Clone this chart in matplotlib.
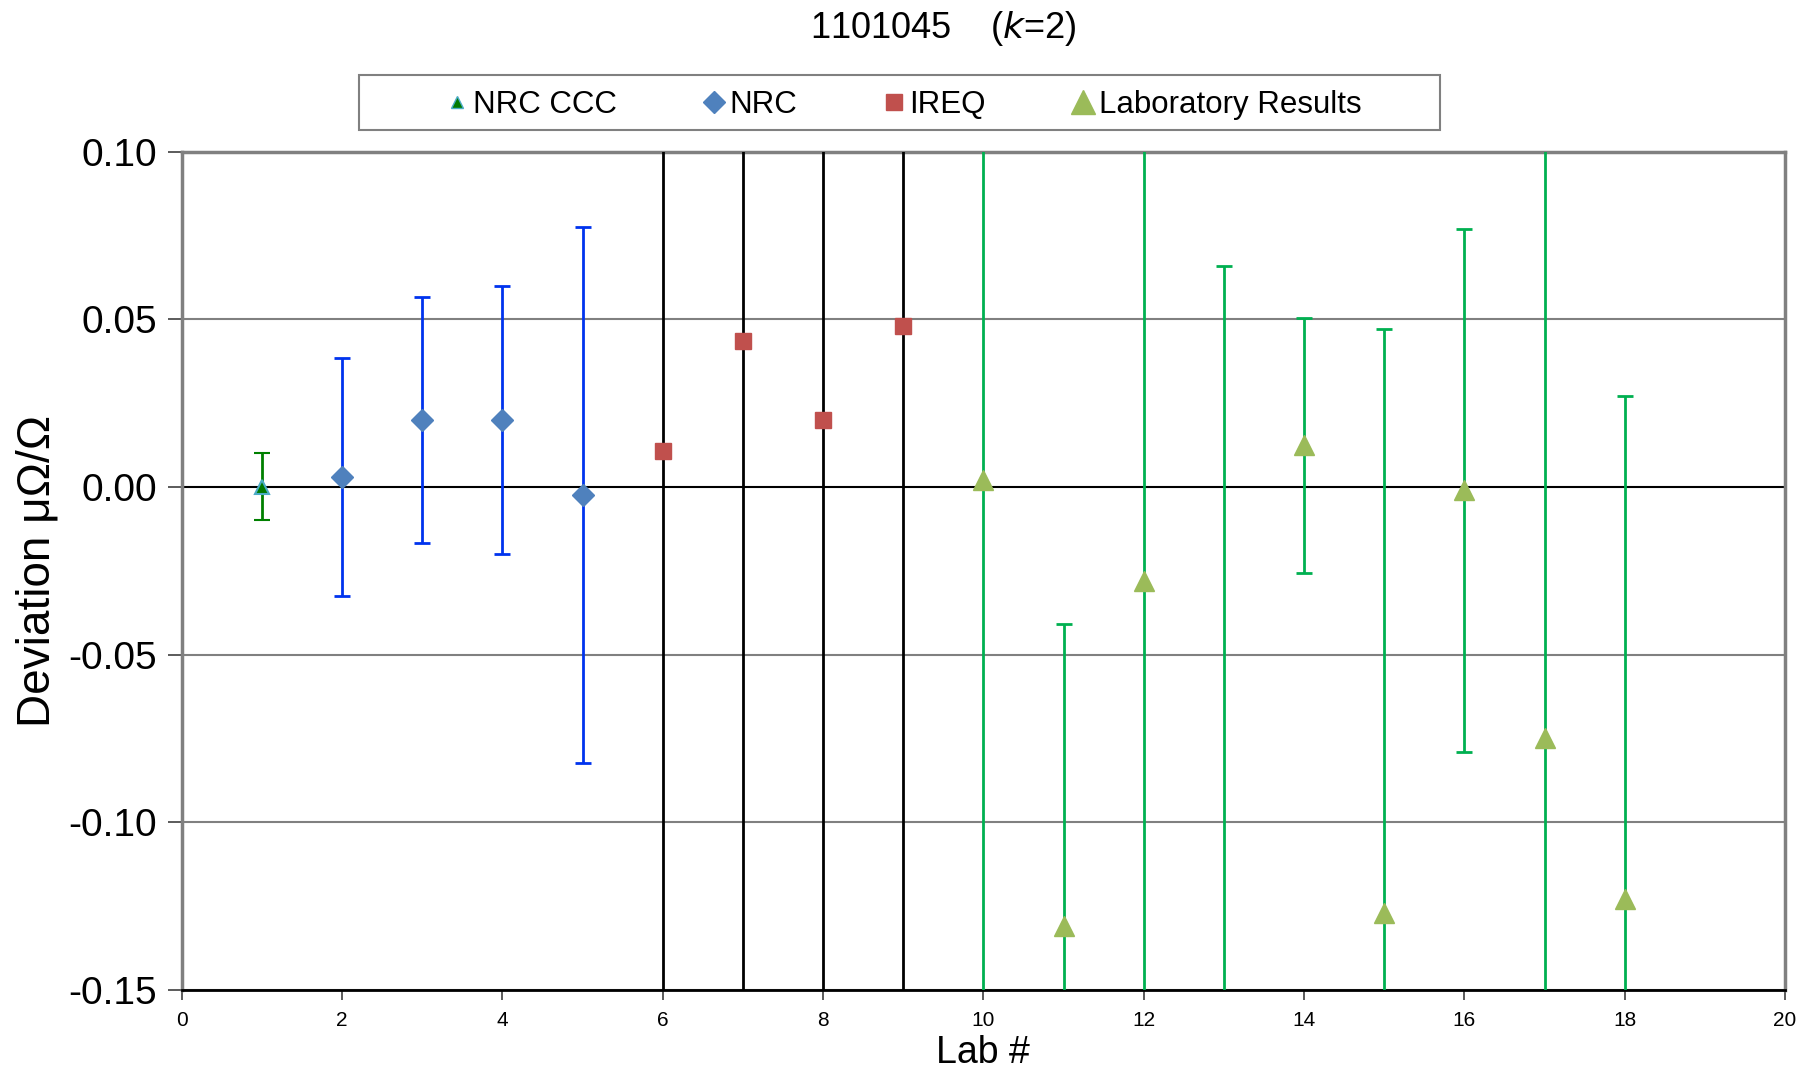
# Deviation chart, sample 1101045 (k=2)

import numpy as np
import matplotlib.pyplot as plt
from matplotlib.lines import Line2D
from matplotlib.patches import Rectangle

plt.rcParams['font.family'] = ['Liberation Sans', 'DejaVu Sans']

# Data
ccc_lab = [1]
ccc_dev = [0.0]
ccc_unc = [0.010]

nrc_lab = [2, 3, 4, 5]
nrc_dev = [0.003, 0.020, 0.020, -0.0024]
nrc_unc = [0.0355, 0.0367, 0.040, 0.080]

ireq_lab = [6, 7, 8, 9]
ireq_dev = [0.0107, 0.0435, 0.020, 0.048]
ireq_unc = [1.0, 1.0, 1.0, 1.0]

lab_lab = [10, 11, 12, 13, 14, 15, 16, 17, 18]
lab_dev = [0.002, -0.131, -0.028, -0.200, 0.0124, -0.127, -0.001, -0.075, -0.123]
lab_unc = [1.0, 0.090, 1.0, 0.266, 0.038, 0.174, 0.078, 1.0, 0.150]

y_ticks = [-0.15, -0.10, -0.05, 0.00, 0.05, 0.10]
x_ticks = np.arange(0, 21, 2)

fig = plt.figure(figsize=(18.15, 10.76), dpi=100)
ax = fig.add_axes([0.1001, 0.0802, 0.8834, 0.7788])

# horizontal gridlines, zero line black
for yv in y_ticks:
    ax.axhline(yv, color='black' if yv == 0 else '#808080', lw=1.5, zorder=1)

ax.errorbar(ireq_lab, ireq_dev, yerr=ireq_unc, fmt='s', color='#C0504D', ms=11,
            ecolor='black', elinewidth=2, capsize=0, zorder=3)
ax.errorbar(lab_lab, lab_dev, yerr=lab_unc, fmt='^', color='#9BBB59', ms=15,
            ecolor='#00B050', elinewidth=2, capsize=6, capthick=2, zorder=3)
ax.errorbar(nrc_lab, nrc_dev, yerr=nrc_unc, fmt='D', color='#4F81BD', ms=11,
            ecolor='#0033EE', elinewidth=2, capsize=6, capthick=2, zorder=3)
ax.errorbar(ccc_lab, ccc_dev, yerr=ccc_unc, fmt='^', color='#007A00', mec='#4BACC6',
            mew=1.5, ms=10, ecolor='#008000', elinewidth=2, capsize=6, capthick=2, zorder=4)

ax.set_xlim(0, 20)
ax.set_ylim(-0.15, 0.10)
ax.set_xticks(x_ticks)
ax.set_yticks(y_ticks)
ax.set_yticklabels(['%.2f' % v for v in y_ticks], fontsize=28)
ax.tick_params(axis='x', labelsize=15, length=7, width=1.2, color='#404040', pad=8)
ax.tick_params(axis='y', length=10, width=1.2, color='#404040', pad=8)

for side in ['top', 'right', 'left']:
    ax.spines[side].set_color('#808080')
    ax.spines[side].set_linewidth(2.5)
ax.spines['bottom'].set_color('black')
ax.spines['bottom'].set_linewidth(2)

ax.set_xlabel('Lab #', fontsize=27, labelpad=4)
ax.set_ylabel('Deviation μΩ/Ω', fontsize=33, labelpad=6)

fig.text(0.52, 0.992, r'1101045    ($\it{k}$=2)', ha='center', va='top', fontsize=26)

# legend frame drawn separately (wider than the entries)
fig.patches.append(Rectangle((0.1978, 0.8792), 0.5956, 0.0511, transform=fig.transFigure,
                             facecolor='white', edgecolor='#808080', lw=1.5, zorder=0))

handles = [
    Line2D([], [], ls='none', marker='^', color='#007A00', mec='#4BACC6', ms=9),
    Line2D([], [], ls='none', marker='D', color='#4F81BD', ms=11),
    Line2D([], [], ls='none', marker='s', color='#C0504D', ms=11),
    Line2D([], [], ls='none', marker='^', color='#9BBB59', ms=17),
]
labels = ['NRC CCC', 'NRC', 'IREQ', 'Laboratory Results']
fig.legend(handles, labels, loc='center', bbox_to_anchor=(0.4975, 0.9025), ncol=4,
           fontsize=22.5, frameon=False, handlelength=0.8, handletextpad=0.1,
           columnspacing=2.7, borderpad=0.35)

fig.savefig('out.png', dpi=100)
